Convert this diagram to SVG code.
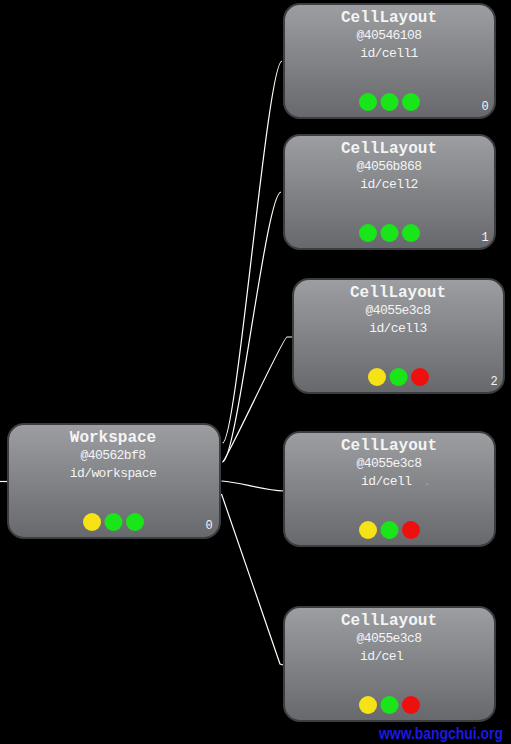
<svg xmlns="http://www.w3.org/2000/svg" width="511" height="744" viewBox="0 0 511 744">
<defs>
<linearGradient id="nodeFill" x1="0" y1="0" x2="0" y2="1">
<stop offset="0" stop-color="#9c9ea2"/>
<stop offset="1" stop-color="#66686c"/>
</linearGradient>
<style>
.box{fill:url(#nodeFill);stroke:#3c3d40;stroke-width:2}
.t{font-family:"Liberation Mono","DejaVu Sans Mono",monospace;fill:#f4f4f4;text-anchor:middle}
.title{font-size:16px;font-weight:bold}
.sub{font-size:13px;letter-spacing:-0.6px}
.idx{font-size:12px}
.y{fill:#f6e317}
.g{fill:#19e619}
.r{fill:#f00f0f}
.conn{fill:none;stroke:#ffffff;stroke-width:1.2}
</style>
</defs>
<rect width="511" height="744" fill="#000"/>
<g id="connectors">
<path class="conn" d="M0,481.5 L8,481.5"/>
<path class="conn" d="M222.5,443 C237,443 267,61 282,61"/>
<path class="conn" d="M222.5,462 C237,462 266,192 281,192"/>
<path class="conn" d="M222.5,462 C226,462 283,337 287,337 L293,337"/>
<path class="conn" d="M221.5,481 C240,482 262,490 284,491"/>
<path class="conn" d="M221.5,494 L280,664 L283,665"/>
</g>
<g id="workspace" transform="translate(8,424)">
<rect class="box" x="0" y="0" width="212" height="114" rx="16"/>
<text class="t title" x="105" y="18">Workspace</text>
<text class="t sub" x="105" y="35">@40562bf8</text>
<text class="t sub" x="105" y="53">id/workspace</text>
<circle class="y" cx="84" cy="98" r="9"/>
<circle class="g" cx="105.5" cy="98" r="9"/>
<circle class="g" cx="127" cy="98" r="9"/>
<text class="t idx" x="201" y="105">0</text>
</g>
<g id="cell1" transform="translate(284,4)">
<rect class="box" x="0" y="0" width="211" height="114" rx="16"/>
<text class="t title" x="105" y="18">CellLayout</text>
<text class="t sub" x="105" y="35">@40546108</text>
<text class="t sub" x="105" y="53">id/cell1</text>
<circle class="g" cx="84" cy="98" r="9"/>
<circle class="g" cx="105.5" cy="98" r="9"/>
<circle class="g" cx="127" cy="98" r="9"/>
<text class="t idx" x="201" y="106">0</text>
</g>
<g id="cell2" transform="translate(284,135)">
<rect class="box" x="0" y="0" width="211" height="114" rx="16"/>
<text class="t title" x="105" y="18">CellLayout</text>
<text class="t sub" x="105" y="35">@4056b868</text>
<text class="t sub" x="105" y="53">id/cell2</text>
<circle class="g" cx="84" cy="98" r="9"/>
<circle class="g" cx="105.5" cy="98" r="9"/>
<circle class="g" cx="127" cy="98" r="9"/>
<text class="t idx" x="201" y="106">1</text>
</g>
<g id="cell3" transform="translate(293,279)">
<rect class="box" x="0" y="0" width="211" height="114" rx="16"/>
<text class="t title" x="105" y="18">CellLayout</text>
<text class="t sub" x="105" y="35">@4055e3c8</text>
<text class="t sub" x="105" y="53">id/cell3</text>
<circle class="y" cx="84" cy="98" r="9"/>
<circle class="g" cx="105.5" cy="98" r="9"/>
<circle class="r" cx="127" cy="98" r="9"/>
<text class="t idx" x="201" y="106">2</text>
</g>
<g id="cell4" transform="translate(284,432)">
<rect class="box" x="0" y="0" width="211" height="114" rx="16"/>
<text class="t title" x="105" y="18">CellLayout</text>
<text class="t sub" x="105" y="35">@4055e3c8</text>
<text class="t sub" x="77" y="53" style="text-anchor:start">id/cell</text>
<text class="t sub" x="143" y="53" style="fill:#b8b8b8;font-size:9px">.</text>
<circle class="y" cx="84" cy="98" r="9"/>
<circle class="g" cx="105.5" cy="98" r="9"/>
<circle class="r" cx="127" cy="98" r="9"/>
</g>
<g id="cell5" transform="translate(284,607)">
<rect class="box" x="0" y="0" width="211" height="114" rx="16"/>
<text class="t title" x="105" y="18">CellLayout</text>
<text class="t sub" x="105" y="35">@4055e3c8</text>
<text class="t sub" x="76" y="53" style="text-anchor:start">id/cel</text>
<circle class="y" cx="84" cy="98" r="9"/>
<circle class="g" cx="105.5" cy="98" r="9"/>
<circle class="r" cx="127" cy="98" r="9"/>
</g>
<text x="379" y="739" textLength="124" lengthAdjust="spacingAndGlyphs" style="font-family:'Liberation Sans',Arial,sans-serif;font-weight:bold;font-size:17px;fill:#1a1ae0">www.bangchui.org</text>
</svg>
